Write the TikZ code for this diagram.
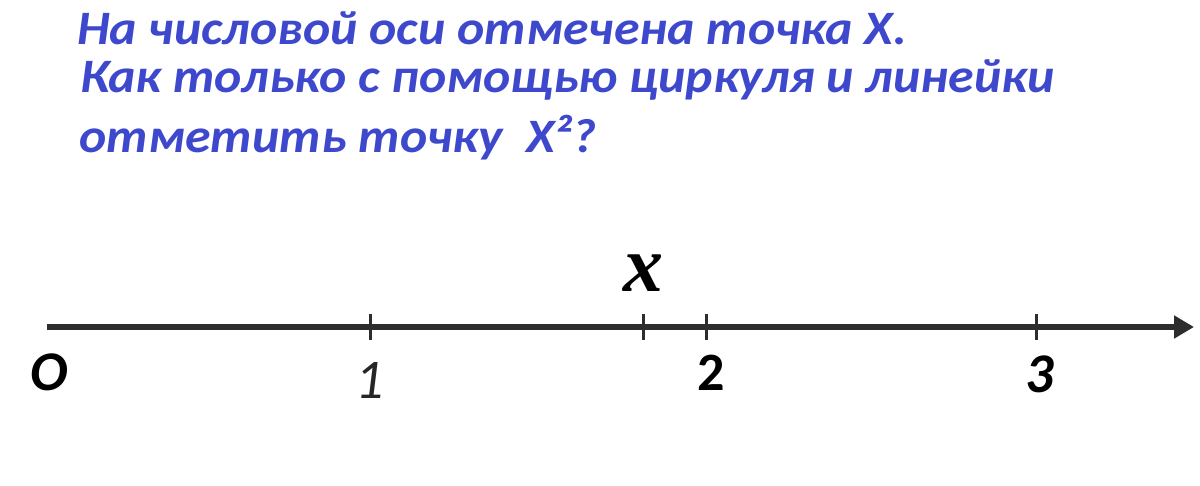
\documentclass[tikz,border=0pt]{standalone}
\usepackage{fontspec}
\setmainfont{Carlito}
\newfontfamily\qfont[FakeStretch=1.08]{Carlito}
\newfontfamily\serifx{Liberation Serif}
\usetikzlibrary{arrows.meta}
\definecolor{qblue}{RGB}{62,72,204}
\definecolor{axisgray}{RGB}{45,45,45}
\begin{document}
\begin{tikzpicture}[x=1pt,y=-1pt,
    qt/.style={anchor=base west,inner sep=0pt,text=qblue,font=\qfont\fontsize{48}{50}\selectfont\bfseries\itshape},
    num/.style={anchor=base,inner sep=0pt,font=\fontsize{54}{50}\selectfont\bfseries},
    tick/.style={line width=3pt,axisgray}]
    \useasboundingbox (0,0) rectangle (1200,486);

    \draw (77,45)  node[qt](q1){На числовой оси отмечена точка X.};
    \draw (80,93)  node[qt](q2){Как только с помощью циркуля и линейки};
    \draw (79,153) node[qt](q3){отметить точку\ \ X²?};

    \coordinate (o) at (47,327);
    \coordinate (tip) at (1194,327);
    \draw[line width=5.5pt, axisgray, -{Triangle[length=20pt,width=22pt]}] (o) -- (tip);

    \foreach \p/\n in {370/t1, 643/tx, 706/t2, 1036/t3} {
        \coordinate (\n) at (\p,327);
        \draw[tick] ([yshift=13pt]\n) -- ([yshift=-13pt]\n);
    }

    \draw (49,391)   node[num,font=\fontsize{56}{50}\selectfont\bfseries\itshape](lo){O};
    \draw (370,399)  node[num,text=black!85,font=\fontsize{56}{50}\selectfont\itshape](l1){1};
    \draw (711,391)  node[num](l2){2};
    \draw (1040,392) node[num,font=\fontsize{56}{50}\selectfont\bfseries\itshape](l3){3};
    \draw (643,292)  node[num,font=\fontsize{80}{70}\selectfont\serifx\bfseries\itshape](lx){x};
\end{tikzpicture}
\end{document}
